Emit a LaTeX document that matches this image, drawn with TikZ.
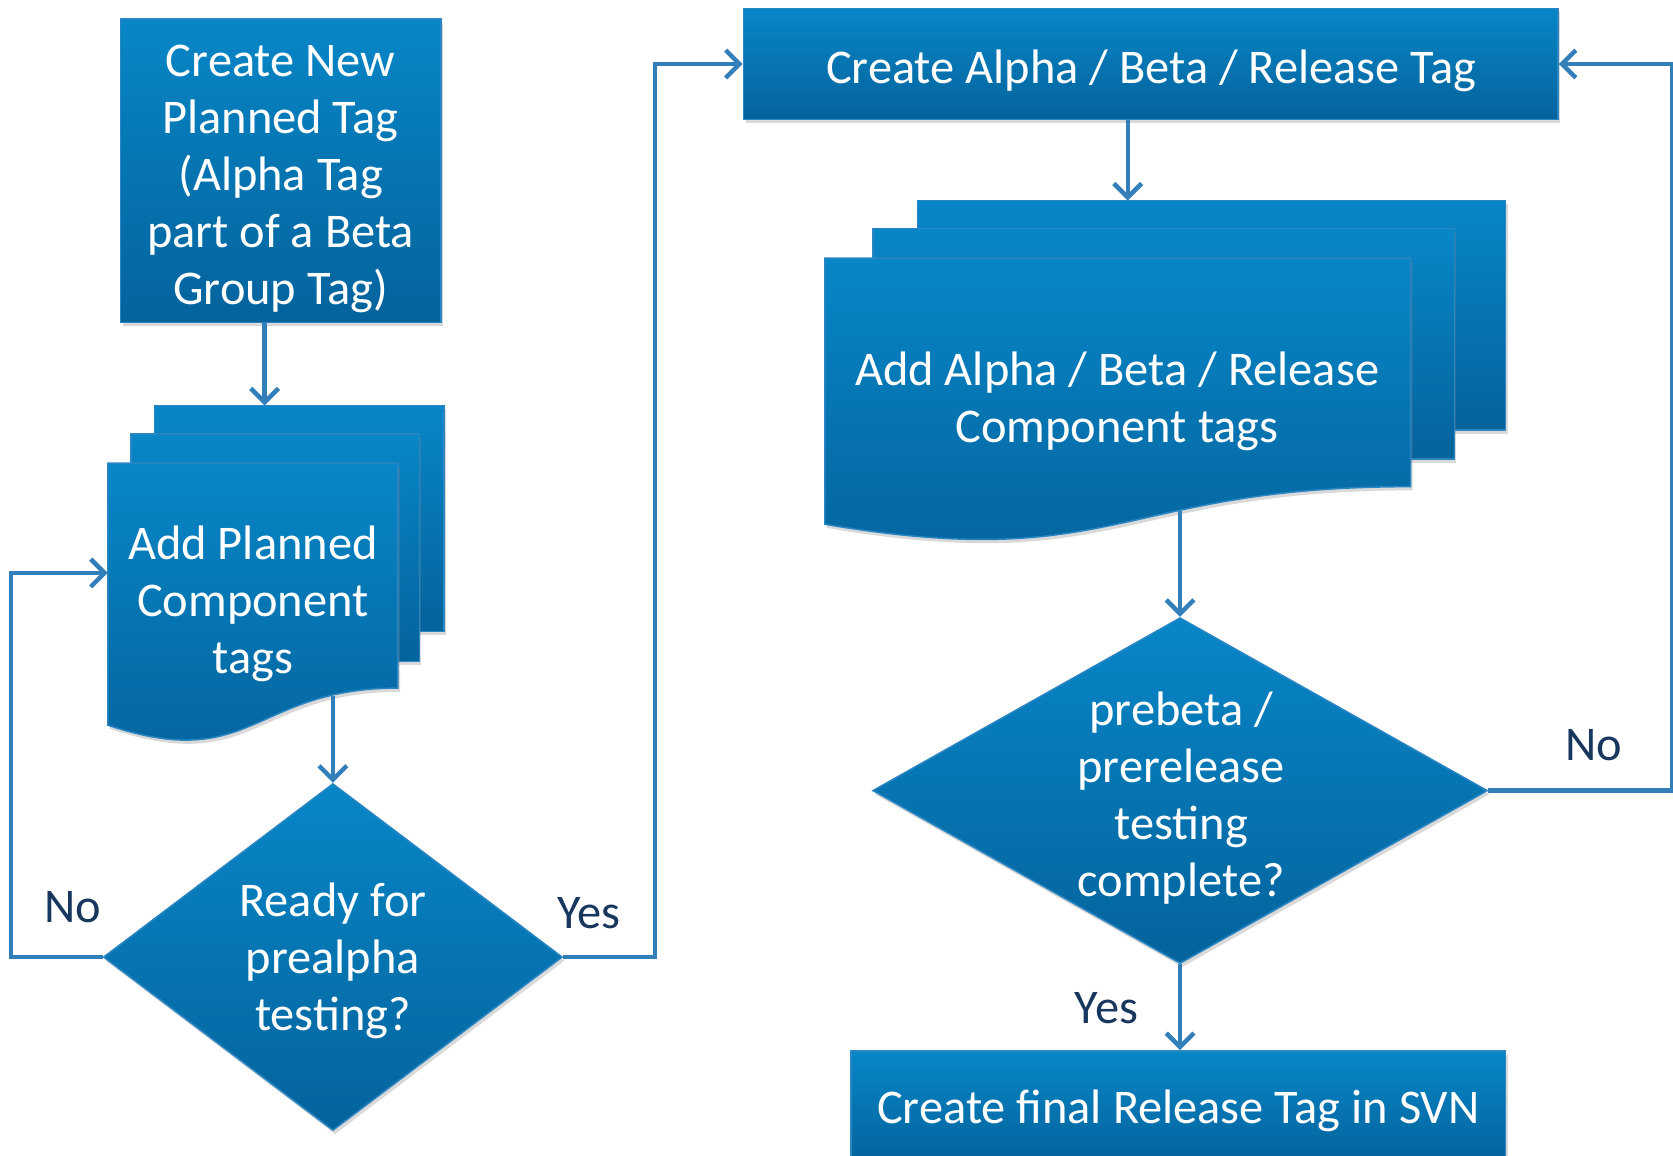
\documentclass[tikz,border=0pt]{standalone}
\usepackage{fontspec}
\setmainfont{Carlito}
\usetikzlibrary{shapes.geometric,arrows.meta,shadows}
\definecolor{ctop}{HTML}{0886C7}
\definecolor{cbot}{HTML}{04639C}
\definecolor{arrc}{HTML}{327FBA}
\definecolor{lblc}{HTML}{17375E}
\definecolor{edgec}{HTML}{2A85C3}
\newcommand\mydoc[4]{\path[shapefill] (#1,#2) -- ({#1+#3},#2) -- ({#1+#3},{#2+0.802*#4}) .. controls ({#1+0.5*#3},{#2+0.802*#4}) and ({#1+0.5*#3},{#2+1.1075*#4}) .. (#1,{#2+0.934*#4}) -- cycle;}
\begin{document}
\begin{tikzpicture}[x=0.01cm,y=-0.01cm,
  shapefill/.style={top color=ctop,bottom color=cbot,draw=edgec,line width=0.4pt,
    drop shadow={shadow xshift=0.02cm,shadow yshift=-0.035cm,opacity=0.3}},
  box/.style={shapefill,rectangle,inner sep=0pt},
  dia/.style={shapefill,diamond,inner sep=0pt},
  txt/.style={text=white,align=center,font=\fontsize{12.9}{15.2}\selectfont,inner sep=0pt},
  lbl/.style={text=lblc,font=\fontsize{12.9}{15.2}\selectfont,inner sep=0pt},
  arr/.style={draw=arrc,line width=1.2pt,-{Straight Barb[length=0.13cm,width=0.26cm]}}
]
\useasboundingbox (0,0) rectangle (1568,1083);

% boxes
\node[box,minimum width=3cm,minimum height=2.84cm] (b1) at (263,160) {};
\node[txt] (b1t) at (263,168) {Create New\\Planned Tag\\(Alpha Tag\\part of a Beta\\Group Tag)};
\node[box,minimum width=7.63cm,minimum height=1.04cm] (b2) at (1078.5,60) {};
\node[txt] (b2t) at (1079,66) {Create Alpha / Beta / Release Tag};
\node[box,minimum width=6.13cm,minimum height=1.06cm] (b3) at (1104.5,1038) {};
\node[txt] (b3t) at (1104.5,1041) {Create final Release Tag in SVN};

% document stack 1
\path[shapefill] (145,380) rectangle (416,592);
\path[shapefill] (123,407) rectangle (393,620);
\mydoc{101}{434}{272}{263}
\node[txt] (s1t) at (237,566) {Add Planned\\Component\\tags};
\coordinate (s1top) at (248,380);
\coordinate (s1in) at (101,537);
\coordinate (s1out) at (309,652);

% document stack 2
\path[shapefill] (860,188) rectangle (1411,403);
\path[shapefill] (818,214) rectangle (1363,430);
\mydoc{773}{242}{549}{267}
\node[txt] (s2t) at (1047,376.5) {Add Alpha / Beta / Release\\Component tags};
\coordinate (s2top) at (1057,188);
\coordinate (s2out) at (1105,479);

% decisions
\node[dia,minimum width=4.30cm,minimum height=3.25cm] (d1) at (312,897) {};
\node[txt] (d1t) at (312,901) {Ready for\\prealpha\\testing?};
\node[dia,minimum width=5.76cm,minimum height=3.24cm] (d2) at (1106,741) {};
\node[txt] (d2t) at (1107,748) {prebeta /\\prerelease\\testing\\complete?};

% labels
\node[lbl] (l1) at (68,850) {No};
\node[lbl] (l2) at (552,856) {Yes};
\node[lbl] (l3) at (1494,698) {No};
\node[lbl] (l4) at (1037,945) {Yes};

% connectors
\draw[arr] (b1.south -| s1top) -- (s1top);
\draw[arr] (d1.north |- s1out) -- (d1.north);
\draw[arr] (d1.west) -- ++(-86,0) |- (s1in);
\draw[arr] (d1.east) -- ++(86,0) |- (b2.west);
\draw[arr] (b2.south -| s2top) -- (s2top);
\draw[arr] (d2.north |- s2out) -- (d2.north);
\draw[arr] (d2.east) -- ++(172,0) |- (b2.east);
\draw[arr] (d2.south) -- (d2.south |- b3.north);
\end{tikzpicture}
\end{document}
